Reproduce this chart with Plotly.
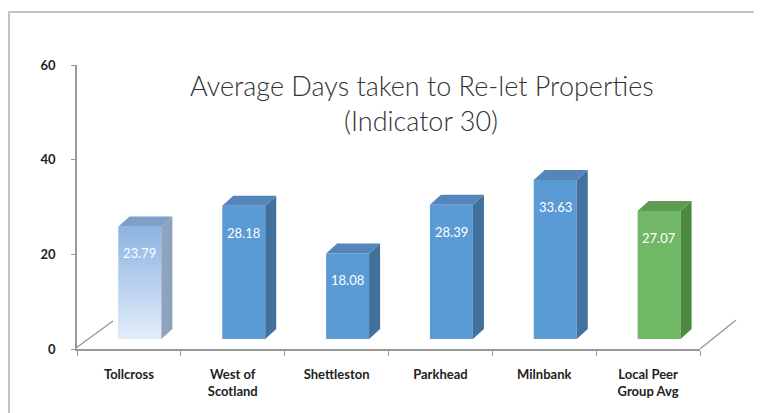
import plotly.graph_objects as go

categories = ["Tollcross", "West of<br>Scotland", "Shettleston", "Parkhead", "Milnbank", "Local Peer<br>Group Avg"]
values = [23.79, 28.18, 18.08, 28.39, 33.63, 27.07]
y_ticks = [0, 20, 40, 60]

# style (front, side, top)
styles = [
    ("#b6d0ee", "#8ea3bd", "#7e9fc8"),
    ("#5b9bd5", "#41719c", "#5586b9"),
    ("#5b9bd5", "#41719c", "#5586b9"),
    ("#5b9bd5", "#41719c", "#5586b9"),
    ("#5b9bd5", "#41719c", "#5586b9"),
    ("#70b865", "#4b8a3f", "#5f9c52"),
]

BODY = 8  # default page margin of the html body
W, H = 762 - BODY, 413 - BODY
ML, MR, MT, MB = 69, 62, 57, 64
PW, PH = W - ML - MR, H - MT - MB

def px2x(px):
    return (px - BODY - ML) / PW

def py2y(py):
    return (H - MB - (py - BODY)) / PH

BW = 0.414      # bar width (category units)
OFF = -0.101    # bar left offset from category centre
DX = 0.106      # depth offset x (category units)
DY = 2.11       # depth offset y (value units)
YSHIFT = 2.1    # bars sit slightly back on the floor

xs = list(range(len(categories)))
fig = go.Figure()

# registers the front (tick) axes
fig.add_trace(go.Scatter(x=xs, y=[0] * len(xs), mode="none", xaxis="x", yaxis="y",
                         hoverinfo="skip", showlegend=False))

fig.add_trace(go.Bar(
    x=xs, y=values, width=BW, offset=OFF,
    marker=dict(color=[s[0] for s in styles], line=dict(width=0)),
    xaxis="x", yaxis="y2", hoverinfo="skip", showlegend=False,
))

for i, v in enumerate(values):
    xl = xs[i] + OFF
    xr = xl + BW
    front, side, top = styles[i]
    if i == 0:
        fig.add_trace(go.Scatter(
            x=[xl, xr, xr, xl, xl], y=[0, 0, v, v, 0], mode="lines",
            fill="toself", line=dict(width=0),
            fillgradient=dict(type="vertical", colorscale=[[0, "#e2edf9"], [1, "#8db3e2"]]),
            xaxis="x", yaxis="y2", hoverinfo="skip", showlegend=False,
        ))
    fig.add_trace(go.Scatter(
        x=[xr, xr + DX, xr + DX, xr, xr], y=[0, DY, v + DY, v, 0], mode="lines",
        fill="toself", fillcolor=side, line=dict(width=0),
        xaxis="x", yaxis="y2", hoverinfo="skip", showlegend=False,
    ))
    fig.add_trace(go.Scatter(
        x=[xl, xl + DX, xr + DX, xr, xl], y=[v, v + DY, v + DY, v, v], mode="lines",
        fill="toself", fillcolor=top, line=dict(width=0),
        xaxis="x", yaxis="y2", hoverinfo="skip", showlegend=False,
    ))

annotations = []
for i, v in enumerate(values):
    annotations.append(dict(
        x=xs[i] + OFF + BW / 2, y=v, xref="x", yref="y2", yshift=-27,
        text=f"{v:.2f}", showarrow=False,
        font=dict(family="Lato", size=13, color="white"),
    ))

annotations.append(dict(
    x=px2x(422), y=py2y(85), xref="paper", yref="paper",
    text="Average Days taken to Re-let Properties", showarrow=False,
    font=dict(family="Lato", size=27, color="#333333", weight=300),
    xanchor="center", yanchor="middle",
))
annotations.append(dict(
    x=px2x(421), y=py2y(120), xref="paper", yref="paper",
    text="(Indicator 30)", showarrow=False,
    font=dict(family="Lato", size=27, color="#333333", weight=300),
    xanchor="center", yanchor="middle",
))

shapes = [
    dict(type="rect", xref="paper", yref="paper",
         x0=px2x(9), x1=px2x(790), y0=py2y(440), y1=py2y(12),
         line=dict(color="#c4c4c4", width=2), layer="below"),
    dict(type="line", xref="paper", yref="paper",
         x0=px2x(76), y0=py2y(348), x1=px2x(113), y1=py2y(321),
         line=dict(color="#9a9a9a", width=1.5)),
    dict(type="line", xref="paper", yref="paper",
         x0=px2x(700), y0=py2y(349), x1=px2x(736), y1=py2y(320),
         line=dict(color="#9a9a9a", width=1.5)),
]

fig.update_layout(
    width=W, height=H,
    margin=dict(l=ML, r=MR, t=MT, b=MB),
    paper_bgcolor="white", plot_bgcolor="rgba(0,0,0,0)",
    showlegend=False,
    annotations=annotations, shapes=shapes,
    xaxis=dict(
        range=[-0.5, len(categories) - 0.5],
        tickvals=xs, ticktext=[f"<b>{c}</b>" for c in categories],
        ticks="", showgrid=False, zeroline=False,
        showline=True, linecolor="#999999", linewidth=1.5,
        tickfont=dict(family="Lato", size=13, color="#222222"),
        ticklabelstandoff=13,
        minor=dict(tickvals=[k - 0.5 for k in range(len(categories) + 1)],
                   ticks="outside", ticklen=5, tickcolor="#999999", showgrid=False),
    ),
    yaxis=dict(
        range=[0, 60], tickvals=y_ticks, ticktext=[f"<b>{t}</b>" for t in y_ticks],
        ticks="outside", ticklen=4, tickcolor="#999999",
        showgrid=False, zeroline=False,
        showline=True, linecolor="#999999", linewidth=1.5,
        tickfont=dict(family="Lato", size=13, color="#222222"),
        ticklabelstandoff=13,
    ),
    yaxis2=dict(
        range=[-YSHIFT, 60 - YSHIFT], overlaying="y", visible=False,
    ),
)

fig.write_html("out.html")
